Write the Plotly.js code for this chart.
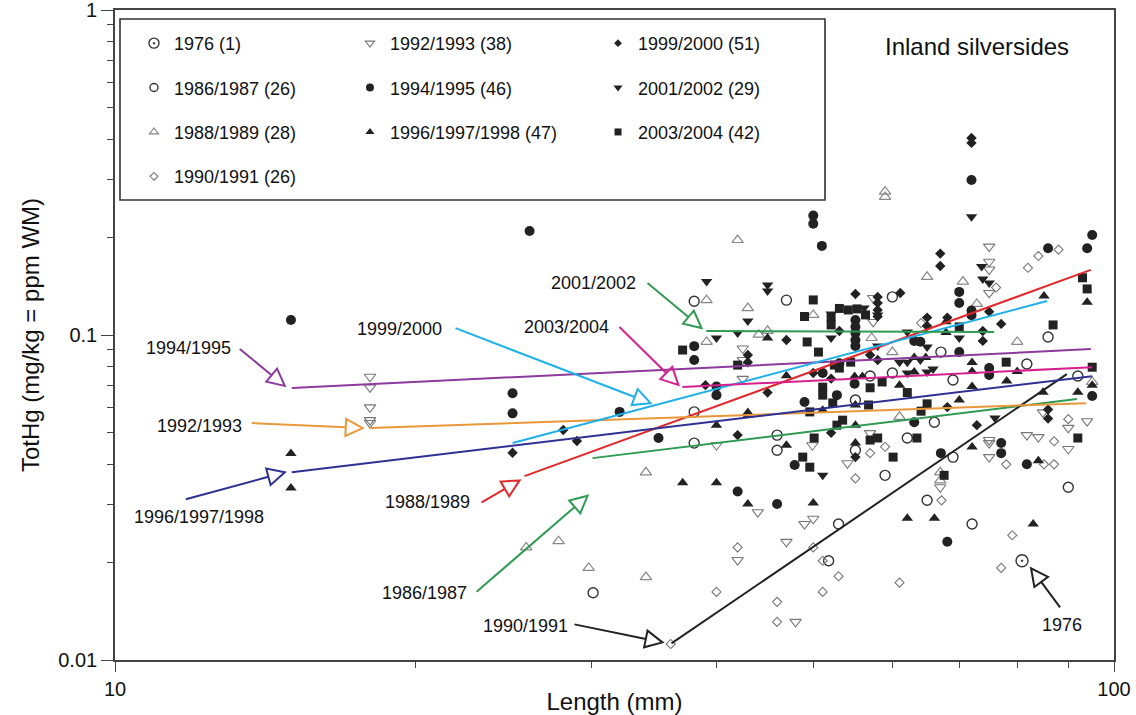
<!DOCTYPE html>
<html><head><meta charset="utf-8">
<script src="https://cdn.plot.ly/plotly-3.0.1.min.js"></script>
<style>html,body{margin:0;padding:0;background:#fff}#chart{width:1136px;height:715px}</style>
</head><body><div id="chart"></div>
<script>
// ---------------- DATA (Length mm, TotHg ppm WM) ----------------
const seriesNames = ['1976 (1)','1986/1987 (26)','1988/1989 (28)','1990/1991 (26)','1992/1993 (38)',
  '1994/1995 (46)','1996/1997/1998 (47)','1999/2000 (51)','2001/2002 (29)','2003/2004 (42)'];

const len1976 = [80.9];
const hg1976  = [0.0202];

const len1986 = [38.0,47.0,60.0,67.1,60.0,57.0,81.8,69.0,92.0,55.1,66.1,38.0,38.0,46.0,46.0,55.1,62.1,69.0,59.0,90.0,65.0,53.0,72.1,51.8,30.1,85.9];
const hg1986  = [0.127,0.128,0.131,0.0886,0.0764,0.0748,0.0814,0.0727,0.0748,0.0631,0.0539,0.058,0.0465,0.0492,0.0442,0.0442,0.0482,0.0421,0.037,0.034,0.031,0.0262,0.0262,0.0202,0.0161,0.0986];

const len1988 = [59.0,59.0,42.0,39.1,43.0,39.1,44.1,45.0,50.0,57.2,60.0,65.0,70.6,72.9,80.0,95.1,67.0,67.0,61.0,34.0,25.8,27.8,29.8,34.0];
const hg1988  = [0.276,0.266,0.196,0.128,0.121,0.0952,0.1002,0.103,0.1153,0.0979,0.0886,0.151,0.146,0.1246,0.0952,0.0717,0.0378,0.0357,0.056,0.0378,0.0222,0.0232,0.0192,0.018];

const len1990 = [82.0,84.0,88.0,76.2,64.1,57.0,59.0,55.1,67.2,78.0,90.0,87.1,85.1,87.1,79.1,77.1,42.0,50.0,51.1,53.0,61.0,40.0,51.1,46.0,46.0,36.0];
const hg1990  = [0.161,0.175,0.183,0.140,0.1089,0.0433,0.0453,0.0362,0.031,0.040,0.0551,0.0471,0.040,0.040,0.0242,0.0192,0.0222,0.0222,0.0202,0.0181,0.0173,0.0162,0.0162,0.0151,0.0131,0.0112];

const len1992 = [18.0,18.0,18.0,18.0,18.0,75.0,75.0,75.0,75.0,57.4,57.4,42.5,42.5,42.5,40.0,49.9,57.0,54.1,67.0,75.0,75.0,75.0,81.8,84.0,90.0,94.0,90.0,44.0,50.0,49.0,47.0,42.0,48.0,84.9];
const hg1992  = [0.0744,0.069,0.0599,0.0547,0.0536,0.187,0.168,0.159,0.1347,0.130,0.1097,0.0909,0.0838,0.0733,0.0458,0.0458,0.0499,0.0403,0.034,0.0475,0.0465,0.0421,0.0492,0.0485,0.0518,0.0543,0.0446,0.0285,0.0272,0.0262,0.0231,0.0203,0.0131,0.0578];

const len1994 = [15.0,26.0,25.0,25.0,32.0,35.0,72.0,50.0,50.0,51.0,85.9,95.1,94.0,70.0,70.0,72.0,72.0,70.0,63.1,64.0,55.1,55.1,55.1,55.1,55.1,38.0,38.0,75.0,75.0,40.0,40.0,51.1,53.1,52.8,49.0,55.0,63.1,95.1,47.9,77.1,77.1,67.1,81.8,42.0,46.0,68.1];
const hg1994  = [0.1112,0.209,0.0662,0.0574,0.058,0.0482,0.300,0.233,0.220,0.188,0.185,0.203,0.185,0.1357,0.1254,0.119,0.115,0.0886,0.0958,0.0953,0.1112,0.106,0.1014,0.0965,0.0925,0.0924,0.0838,0.0791,0.0753,0.0694,0.0653,0.0764,0.0819,0.0653,0.0622,0.0708,0.0539,0.0649,0.0398,0.0465,0.0433,0.0433,0.040,0.033,0.0302,0.0231];

const len1996 = [15.0,15.0,37.0,40.0,43.0,50.0,62.1,66.1,83.0,72.1,84.0,70.0,51.1,55.1,55.1,55.1,43.0,43.0,40.0,47.0,47.0,55.0,56.0,61.0,63.1,72.1,72.1,80.0,72.1,78.1,95.1,92.0,84.9,85.1,94.0,67.9,67.9,63.1,64.8,45.0];
const hg1996  = [0.0432,0.0338,0.0351,0.0351,0.0302,0.0304,0.0273,0.0273,0.0262,0.0452,0.041,0.0631,0.0587,0.0609,0.0528,0.0465,0.0577,0.0565,0.0528,0.0458,0.0749,0.0745,0.0745,0.0701,0.077,0.0823,0.0772,0.0772,0.0694,0.0722,0.0701,0.0667,0.0667,0.1318,0.1262,0.1098,0.1017,0.0853,0.0853,0.0979];

const len1999 = [72.0,72.0,67.0,67.0,55.1,61.1,58.0,58.0,58.0,58.0,75.0,77.1,73.9,73.9,68.1,65.0,65.0,53.1,47.0,43.0,43.0,57.0,58.0,50.0,52.1,45.0,39.0,68.1,52.1,42.0,55.1,72.9,85.9,85.9,25.0,28.1,29.0];
const hg1999  = [0.404,0.390,0.178,0.163,0.1337,0.1346,0.131,0.1255,0.1194,0.114,0.118,0.1082,0.1029,0.0959,0.1131,0.1131,0.1066,0.1029,0.0965,0.0868,0.0824,0.0868,0.0838,0.0764,0.0734,0.0665,0.0701,0.060,0.050,0.0492,0.0421,0.0528,0.059,0.0553,0.0434,0.051,0.0472];

const len2001 = [72.0,73.7,73.9,75.0,39.1,45.0,45.0,43.0,40.0,42.0,52.1,52.1,58.0,58.0,62.1,65.0,62.1,64.0,65.9,61.0,70.0,62.1,65.0,51.1,76.0,56.2];
const hg2001  = [0.231,0.1624,0.1486,0.1445,0.146,0.1426,0.1367,0.1104,0.0979,0.1014,0.116,0.0979,0.1153,0.0925,0.1021,0.0918,0.0824,0.0838,0.0786,0.0824,0.0979,0.0764,0.077,0.037,0.0555,0.121];

const len2003 = [37.0,42.0,49.3,50.6,49.0,50.0,52.1,53.1,54.2,55.3,56.4,52.1,54.5,93.0,94.0,86.9,70.0,78.0,95.1,52.5,53.1,51.1,51.1,57.0,58.6,62.1,49.6,52.3,56.8,65.0,64.1,53.5,52.8,50.1,57.0,58.0,63.5,60.1,48.8,49.6,67.6,92.0];
const hg2003  = [0.0899,0.0808,0.0952,0.0886,0.114,0.1282,0.1133,0.1207,0.1194,0.1203,0.1153,0.1074,0.0825,0.150,0.1386,0.1074,0.1059,0.0825,0.0796,0.0808,0.0791,0.0691,0.0653,0.0688,0.0717,0.0665,0.058,0.0618,0.0609,0.0614,0.0583,0.0547,0.0528,0.0482,0.0475,0.0482,0.0482,0.0421,0.0421,0.0392,0.037,0.0482];

// regression lines (start/end length and TotHg) per period
const fitLabels = ['1986/1987','1988/1989','1990/1991','1992/1993','1994/1995','1996/1997/1998','1999/2000','2001/2002','2003/2004'];
const fitX0 = [30.06,25.7,36.06,17.99,15.03,15.03,25.0,39.08,36.98];
const fitX1 = [91.8,94.8,89.7,93.8,94.8,95.1,85.7,75.86,95.1];
const fitY0 = [0.0418,0.0368,0.01125,0.0517,0.0687,0.0378,0.0465,0.1029,0.0692];
const fitY1 = [0.0635,0.1586,0.0758,0.0617,0.0905,0.0747,0.1272,0.1021,0.0796];

// arrow labels: tip (data) and label text
const arrowText = ['1994/1995','1992/1993','1996/1997/1998','1999/2000','2003/2004','2001/2002','1988/1989','1986/1987','1990/1991','1976'];
const arrowTipX = [14.79,17.70,14.79,34.36,36.64,38.64,25.41,29.72,35.32,82.6];
const arrowTipY = [0.0697,0.0517,0.0378,0.0617,0.0702,0.1051,0.0357,0.0320,0.01133,0.01915];

// ---------------- STYLES ----------------
const FONT = '"Liberation Sans", Arial, Helvetica, sans-serif';
const BLK = '#222';
const ML = 115, MR = 22, MT = 10, MB = 55, W = 1136, H = 715;
const XR = [1,2], YR = [-2,0];
const plotW = W-ML-MR, plotH = H-MT-MB;

const seriesData = [
  [len1976,hg1976],[len1986,hg1986],[len1988,hg1988],[len1990,hg1990],[len1992,hg1992],
  [len1994,hg1994],[len1996,hg1996],[len1999,hg1999],[len2001,hg2001],[len2003,hg2003]];
const mStyle = [
  {symbol:'circle-open-dot', color:'#333', size:12, lw:1.4, legend:'legend'},
  {symbol:'circle-open', color:'#333', size:10, lw:1.4, legend:'legend'},
  {symbol:'triangle-up-open', color:'#888', size:10, lw:1.2, legend:'legend'},
  {symbol:'diamond-open', color:'#777', size:7, lw:1.1, legend:'legend'},
  {symbol:'triangle-down-open', color:'#777', size:10, lw:1.1, legend:'legend2'},
  {symbol:'circle', color:BLK, size:10, lw:0, legend:'legend2'},
  {symbol:'triangle-up', color:BLK, size:10, lw:0, legend:'legend2'},
  {symbol:'diamond', color:BLK, size:8, lw:0, legend:'legend3'},
  {symbol:'triangle-down', color:BLK, size:10, lw:0, legend:'legend3'},
  {symbol:'square', color:BLK, size:9, lw:0, legend:'legend3'}
];
const fitColor = ['#2f9a52','#e2282b','#222222','#e8983a','#8c3a9c','#2e3192','#1eb0ea','#2f9a52','#d6228e'];
const arrowColor = ['#8c3a9c','#e8983a','#2e3192','#1eb0ea','#d6228e','#2f9a52','#e2282b','#2f9a52','#222222','#222222'];
// arrow geometry in screen px relative to tip: tail offset and label offset
const arrowTail = [[-45,-37],[-111,-5],[-99,27],[-195,-75],[-59,-58],[-54,-45],[-38,22],[-111,96],[-88,-18],[29,39]];
const labelOff  = [[-96,-38],[-163,-2],[-86,45],[-251,-74],[-112,-58],[-108,-45],[-92,22],[-163,97],[-137,-16],[31,57]];

const traces = [];
seriesData.forEach((d,i)=>{
  const s = mStyle[i];
  traces.push({x:d[0], y:d[1], type:'scatter', mode:'markers', showlegend:false, hoverinfo:'x+y',
    marker:{symbol:s.symbol, size:s.size, color:s.color, line:{width:s.lw, color:s.color}}});
});
fitLabels.forEach((n,i)=>{
  traces.push({x:[fitX0[i],fitX1[i]], y:[fitY0[i],fitY1[i]], type:'scatter', mode:'lines', showlegend:false,
    hoverinfo:'skip', line:{color:fitColor[i], width:2}});
});
seriesNames.forEach((n,i)=>{
  const s = mStyle[i];
  traces.push({x:[null], y:[null], type:'scatter', mode:'markers', name:n, legend:s.legend, legendgroup:n,
    marker:{symbol:s.symbol, size:Math.max(6, s.size-2), color:s.color, line:{width:s.lw, color:s.color}}});
});

// move a data point by a screen-pixel offset on the log-log axes
function shift(x, y, dx, dy) {
  return [x*Math.pow(10, dx*(XR[1]-XR[0])/plotW), y*Math.pow(10, -dy*(YR[1]-YR[0])/plotH)];
}
const shapes = [];
const annotations = [];
arrowText.forEach((t,i)=>{
  const [dx,dy] = arrowTail[i];
  const len = Math.hypot(dx,dy), ux = dx/len, uy = dy/len;
  const L = 17, HW = 8.5;
  const bx = ux*L, by = uy*L, px = -uy, py = ux;
  const tx = arrowTipX[i], ty = arrowTipY[i];
  const base = shift(tx,ty,bx,by), tail = shift(tx,ty,dx,dy);
  const c1 = shift(tx,ty,bx+px*HW,by+py*HW), c2 = shift(tx,ty,bx-px*HW,by-py*HW);
  const col = arrowColor[i];
  shapes.push({type:'line', xref:'x', yref:'y', x0:base[0], y0:base[1], x1:tail[0], y1:tail[1], line:{color:col, width:2}});
  shapes.push({type:'path', xref:'x', yref:'y',
    path:'M'+tx+','+ty+' L'+c1[0]+','+c1[1]+' L'+c2[0]+','+c2[1]+' Z',
    line:{color:col, width:2}, fillcolor:'rgba(0,0,0,0)'});
  annotations.push({xref:'x', yref:'y', x:Math.log10(tx), y:Math.log10(ty),
    xshift:labelOff[i][0], yshift:-labelOff[i][1], text:t, showarrow:false,
    font:{family:FONT, size:18, color:'#111'}});
});
annotations.push({xref:'paper', yref:'paper', x:0.863, y:0.9446, xanchor:'center', yanchor:'middle',
  text:'Inland silversides', showarrow:false, font:{family:FONT, size:24, color:'#111'}});
shapes.push({type:'rect', xref:'paper', yref:'paper', x0:0.005, x1:0.7107, y0:0.7077, y1:0.9862,
  line:{color:'#333', width:1.6}, fillcolor:'rgba(0,0,0,0)'});

const legBase = {xanchor:'left', yanchor:'top', y:0.977, bgcolor:'rgba(0,0,0,0)', borderwidth:0,
  font:{family:FONT, size:18, color:'#111'}, traceorder:'grouped', tracegroupgap:18, itemclick:false, itemdoubleclick:false};

const axisCommon = {type:'log', showgrid:false, zeroline:false, showline:true, mirror:true, linecolor:'#444', linewidth:1.6,
  ticks:'outside', tickcolor:'#444', tickwidth:1.2, ticklabeloverflow:'allow', tickfont:{family:FONT, size:20, color:'#111'}};

const layout = {
  width:W, height:H, margin:{l:ML, r:MR, t:MT, b:MB}, paper_bgcolor:'#fff', plot_bgcolor:'#fff',
  font:{family:FONT, color:'#111'},
  xaxis:Object.assign({}, axisCommon, {range:XR, tickmode:'array', tickvals:[10,100], ticktext:['10','100'], ticklen:10,
    minor:{tickmode:'array', tickvals:[20,30,40,50,60,70,80,90], ticklen:6, ticks:'outside', tickcolor:'#444', tickwidth:1.2, showgrid:false},
    title:{text:'Length (mm)', font:{family:FONT, size:24, color:'#111'}, standoff:0}}),
  yaxis:Object.assign({}, axisCommon, {range:YR, tickmode:'array', tickvals:[0.01,0.1,1], ticktext:['0.01','0.1','1'], ticklen:12,
    minor:{tickmode:'array', tickvals:[0.02,0.03,0.04,0.05,0.06,0.07,0.08,0.09,0.2,0.3,0.4,0.5,0.6,0.7,0.8,0.9], ticklen:6, ticks:'outside', tickcolor:'#444', tickwidth:1.2, showgrid:false},
    title:{text:'TotHg (mg/kg = ppm WM)', font:{family:FONT, size:24, color:'#111'}, standoff:12}}),
  legend:Object.assign({}, legBase, {x:0.019}),
  legend2:Object.assign({}, legBase, {x:0.2352}),
  legend3:Object.assign({}, legBase, {x:0.4835}),
  shapes:shapes, annotations:annotations, hovermode:'closest'
};
Plotly.newPlot('chart', traces, layout, {displayModeBar:false, responsive:false});
</script></body></html>
